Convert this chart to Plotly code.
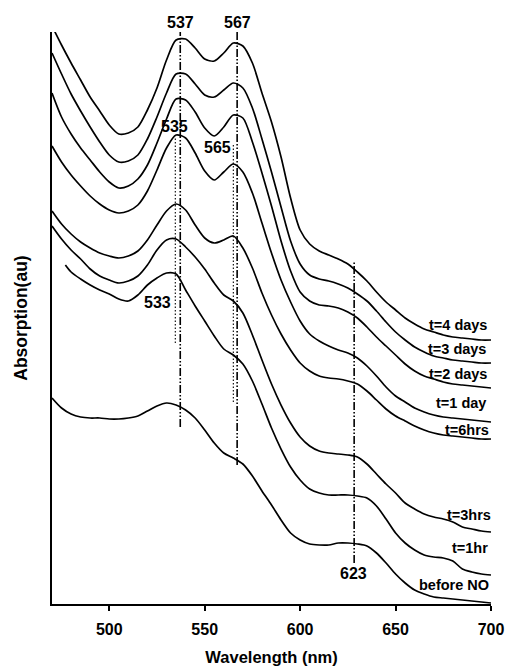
import plotly.graph_objects as go

# ---- data (absorption in arbitrary units) ----
wavelength = [470, 475, 480, 485, 490, 495, 500, 505, 510, 515, 520, 525, 530, 535, 540, 545,
              550, 555, 560, 565, 570, 575, 580, 585, 590, 595, 600, 605, 610, 615, 620, 625,
              630, 635, 640, 645, 650, 655, 660, 665, 670, 675, 680, 685, 690, 695, 700]
wavelength_1hr = [477, 480, 485, 490, 495, 500, 505, 510, 515, 520, 525, 530, 535, 540, 545,
                  550, 555, 560, 565, 570, 575, 580, 585, 590, 595, 600, 605, 610, 615, 620, 625,
                  630, 635, 640, 645, 650, 655, 660, 665, 670, 675, 680, 685, 690, 695, 700]

t_4days = [2.89, 2.795, 2.705, 2.62, 2.535, 2.465, 2.395, 2.35, 2.355, 2.385,
           2.47, 2.58, 2.72, 2.82, 2.825, 2.78, 2.725, 2.715, 2.755, 2.805,
           2.79, 2.705, 2.555, 2.41, 2.235, 2.03, 1.87, 1.80, 1.765, 1.745,
           1.725, 1.70, 1.66, 1.615, 1.56, 1.51, 1.47, 1.43, 1.40, 1.375,
           1.36, 1.345, 1.335, 1.33, 1.325, 1.32, 1.32]
t_3days = [2.755, 2.65, 2.55, 2.465, 2.385, 2.31, 2.245, 2.21, 2.215, 2.245,
           2.325, 2.435, 2.555, 2.65, 2.65, 2.60, 2.545, 2.535, 2.57, 2.605,
           2.58, 2.48, 2.325, 2.16, 1.985, 1.815, 1.70, 1.645, 1.625, 1.615,
           1.60, 1.58, 1.55, 1.515, 1.465, 1.41, 1.36, 1.32, 1.285, 1.26,
           1.24, 1.23, 1.22, 1.215, 1.21, 1.205, 1.205]
t_2days = [2.555, 2.435, 2.35, 2.28, 2.22, 2.16, 2.11, 2.08, 2.09, 2.125,
           2.195, 2.305, 2.425, 2.525, 2.52, 2.46, 2.38, 2.34, 2.385, 2.445,
           2.43, 2.31, 2.155, 1.99, 1.815, 1.665, 1.56, 1.515, 1.495, 1.49,
           1.48, 1.46, 1.43, 1.385, 1.335, 1.29, 1.245, 1.20, 1.165, 1.14,
           1.125, 1.11, 1.10, 1.095, 1.09, 1.085, 1.08]
t_1day = [2.29, 2.21, 2.145, 2.09, 2.04, 2.00, 1.97, 1.955, 1.965, 1.995,
          2.065, 2.17, 2.28, 2.345, 2.33, 2.255, 2.165, 2.12, 2.16, 2.20,
          2.16, 2.055, 1.905, 1.755, 1.62, 1.51, 1.415, 1.35, 1.315, 1.29,
          1.27, 1.255, 1.23, 1.19, 1.14, 1.085, 1.04, 1.01, 0.98, 0.96,
          0.945, 0.935, 0.93, 0.925, 0.92, 0.915, 0.91]
t_6hrs = [1.965, 1.90, 1.85, 1.81, 1.78, 1.755, 1.74, 1.73, 1.74, 1.765,
          1.82, 1.895, 1.965, 2.00, 1.97, 1.895, 1.83, 1.805, 1.82, 1.84,
          1.78, 1.68, 1.555, 1.445, 1.35, 1.27, 1.205, 1.165, 1.14, 1.13,
          1.125, 1.115, 1.10, 1.065, 1.02, 0.975, 0.94, 0.915, 0.89, 0.87,
          0.855, 0.845, 0.84, 0.835, 0.83, 0.825, 0.825]
t_3hrs = [1.89, 1.825, 1.77, 1.725, 1.675, 1.64, 1.62, 1.605, 1.615, 1.64,
          1.695, 1.77, 1.82, 1.825, 1.785, 1.735, 1.675, 1.605, 1.545, 1.515,
          1.455, 1.345, 1.22, 1.10, 0.995, 0.905, 0.835, 0.79, 0.765, 0.755,
          0.75, 0.745, 0.735, 0.70, 0.65, 0.60, 0.555, 0.505, 0.475, 0.45,
          0.435, 0.425, 0.41, 0.385, 0.375, 0.365, 0.36]
t_1hr = [1.695, 1.66, 1.625, 1.595, 1.57, 1.55, 1.525, 1.515, 1.545, 1.595,
         1.63, 1.655, 1.65, 1.57, 1.49, 1.415, 1.34, 1.275, 1.245, 1.20,
         1.115, 1.00, 0.88, 0.775, 0.685, 0.62, 0.575, 0.555, 0.545, 0.545,
         0.545, 0.54, 0.53, 0.49, 0.425, 0.355, 0.305, 0.27, 0.245, 0.235,
         0.23, 0.215, 0.175, 0.16, 0.15, 0.145]
before_no = [1.03, 0.98, 0.95, 0.935, 0.93, 0.93, 0.925, 0.925, 0.93, 0.94,
             0.965, 0.99, 1.005, 0.995, 0.97, 0.93, 0.87, 0.805, 0.755, 0.73,
             0.70, 0.64, 0.565, 0.495, 0.42, 0.355, 0.32, 0.30, 0.295, 0.295,
             0.305, 0.305, 0.30, 0.29, 0.255, 0.205, 0.15, 0.105, 0.07, 0.05,
             0.035, 0.03, 0.025, 0.02, 0.015, 0.01, 0.005]

curve_names = ["t=4 days", "t=3 days", "t=2 days", "t=1 day", "t=6hrs", "t=3hrs", "t=1hr", "before NO"]
curve_x = [wavelength, wavelength, wavelength, wavelength, wavelength, wavelength, wavelength_1hr, wavelength]
curve_y = [t_4days, t_3days, t_2days, t_1day, t_6hrs, t_3hrs, t_1hr, before_no]

# curve label anchor (right edge) positions
label_x = [698.8, 698.4, 698.8, 698.4, 700.0, 700.0, 699.5, 700.0]
label_y = [1.395, 1.275, 1.15, 1.005, 0.87, 0.445, 0.28, 0.095]

# peak marker lines: wavelength, bottom, top, style
marker_wl = [537.2, 567.0, 628.3, 534.6, 565.0]
marker_y0 = [0.885, 0.695, 0.205, 1.305, 1.01]
marker_y1 = [2.86, 2.86, 1.71, 2.335, 2.305]
marker_style = ["dashdot", "dashdot", "dashdot", "dot", "dot"]

# peak labels
peak_text = ["537", "567", "535", "565", "533", "623"]
peak_x = [537.2, 567.0, 534.0, 556.5, 525.1, 627.7]
peak_y = [2.86, 2.86, 2.39, 2.285, 1.51, 0.155]

FONT = "Liberation Sans, Arial, Helvetica, sans-serif"

fig = go.Figure()
for name, xs, ys in zip(curve_names, curve_x, curve_y):
    fig.add_trace(go.Scatter(x=xs, y=ys, mode="lines", name=name,
                             line=dict(color="black", width=1.7, shape="spline", smoothing=0.8),
                             showlegend=False, hoverinfo="skip"))

for wl, y0, y1, st in zip(marker_wl, marker_y0, marker_y1, marker_style):
    if st == "dashdot":
        ln = dict(color="black", width=1.6, dash="8px,2px,1.5px,2px,1.5px,2px")
    else:
        ln = dict(color="black", width=1.1, dash="1.5px,2px")
    fig.add_shape(type="line", xref="x", yref="y", x0=wl, x1=wl, y0=y0, y1=y1, line=ln)

for i, (txt, x, y) in enumerate(zip(peak_text, peak_x, peak_y)):
    fig.add_annotation(x=x, y=y, xref="x", yref="y", text=txt, showarrow=False,
                       xanchor="center", yanchor="middle", yshift=10 if i < 2 else 0,
                       font=dict(family=FONT, size=16, color="black", weight="bold"))

for i, (txt, x, y) in enumerate(zip(curve_names, label_x, label_y)):
    fig.add_annotation(x=x, y=y, xref="x", yref="y", text=txt, showarrow=False,
                       xanchor="right", yanchor="middle", xshift=2 if i == 5 else 0,
                       font=dict(family=FONT, size=14.5, color="black", weight="bold"))

fig.update_layout(
    width=507, height=666,
    margin=dict(l=52, r=16, t=32, b=62, autoexpand=False),
    paper_bgcolor="white", plot_bgcolor="white",
    font=dict(family=FONT, color="black"),
    xaxis=dict(range=[470, 700], tickvals=[500, 550, 600, 650, 700], automargin=False,
               ticks="outside", ticklen=5, tickwidth=2, tickcolor="black",
               ticklabelstandoff=5,
               showline=True, linewidth=2, linecolor="black",
               showgrid=False, zeroline=False,
               tickfont=dict(family=FONT, size=16, color="black", weight="bold"),
               title=dict(text="Wavelength (nm)", standoff=15,
                          font=dict(family=FONT, size=16.5, color="black", weight="bold"))),
    yaxis=dict(range=[0, 2.86], showticklabels=False, ticks="", automargin=False,
               showline=True, linewidth=2, linecolor="black",
               showgrid=False, zeroline=False,
               title=dict(text="Absorption(au)", standoff=18,
                          font=dict(family=FONT, size=17.5, color="black", weight="bold"))),
)

fig.write_html("out.html")
